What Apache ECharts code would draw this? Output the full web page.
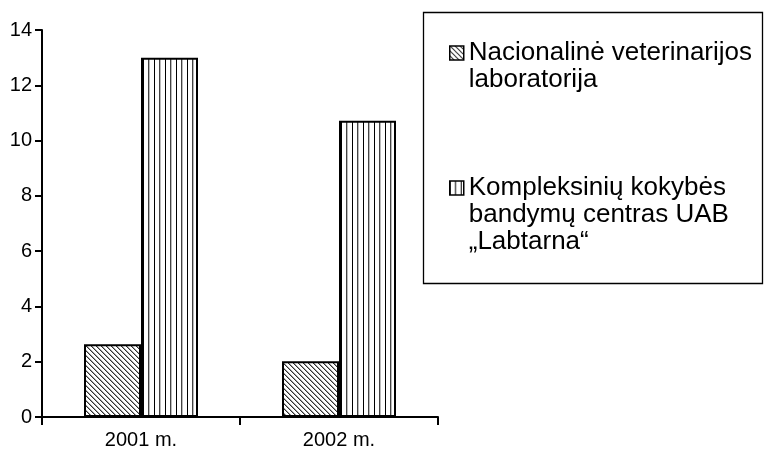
<!DOCTYPE html>
<html>
<head>
<meta charset="utf-8">
<script src="https://cdn.jsdelivr.net/npm/echarts@6/dist/echarts.min.js"></script>
<style>html,body{margin:0;padding:0;background:#fff}#chart{width:764px;height:450px}</style>
</head>
<body>
<div id="chart"></div>
<script>
// ---- data ----
var categories = ['2001 m.', '2002 m.'];
var seriesNames = ['Nacionalinė veterinarijos\nlaboratorija', 'Kompleksinių kokybės\nbandymų centras UAB\n„Labtarna“'];
var nacionalineValues = [2.63, 2.02];
var labtarnaValues = [13.0, 10.72];
var yTicks = [0, 2, 4, 6, 8, 10, 12, 14];

// ---- hatch patterns ----
function makeDiag() {
  var c = document.createElement('canvas');
  c.width = 5; c.height = 5;
  var ctx = c.getContext('2d');
  ctx.fillStyle = '#fff'; ctx.fillRect(0, 0, 5, 5);
  var img = ctx.getImageData(0, 0, 5, 5);
  for (var i = 0; i < 5; i++) {
    var p = (i * 5 + i) * 4;
    img.data[p] = img.data[p + 1] = img.data[p + 2] = 50;
    var j = (i + 1) % 5;
    var q = (i * 5 + j) * 4;
    img.data[q] = img.data[q + 1] = img.data[q + 2] = 160;
  }
  ctx.putImageData(img, 0, 0);
  return c;
}
function makeVert() {
  var c = document.createElement('canvas');
  c.width = 11; c.height = 4;
  var ctx = c.getContext('2d');
  ctx.fillStyle = '#fff'; ctx.fillRect(0, 0, 11, 4);
  ctx.fillStyle = '#000'; ctx.fillRect(0, 0, 1, 4);
  ctx.fillStyle = '#444'; ctx.fillRect(5, 0, 1, 4);
  ctx.fillStyle = '#bbb'; ctx.fillRect(6, 0, 1, 4);
  return c;
}
var diagPattern = { image: makeDiag(), repeat: 'repeat' };
var vertPattern = { image: makeVert(), repeat: 'repeat' };

var font = '"Liberation Sans", Arial, sans-serif';
var LH = 27;
var chart = echarts.init(document.getElementById('chart'), null, { renderer: 'canvas' });
var legendText = { fontFamily: font, fontSize: 26, color: '#000', lineHeight: LH };
// pad with empty lines above so the icon sits beside the first text line
function topAligned(name) {
  var n = name.split('\n').length;
  return new Array(n).join('\n') + name;
}

chart.setOption({
  backgroundColor: '#fff',
  animation: false,
  grid: { left: 42, right: 326, top: 30, bottom: 32, containLabel: false },
  graphic: [{
    type: 'rect', shape: { x: 423.5, y: 12.5, width: 339, height: 271 },
    style: { fill: 'none', stroke: '#000', lineWidth: 1.3 }, z: 0
  }],
  legend: [
    { data: [seriesNames[0]], left: 449, top: 53 - (3 * LH) / 2, orient: 'vertical', padding: 0,
      icon: 'rect', itemWidth: 14, itemHeight: 14, textStyle: legendText, formatter: topAligned,
      itemStyle: { borderColor: '#000', borderWidth: 1.5 } },
    { data: [seriesNames[1]], left: 449, top: 188 - (5 * LH) / 2, orient: 'vertical', padding: 0,
      icon: 'rect', itemWidth: 14, itemHeight: 14, textStyle: legendText, formatter: topAligned,
      itemStyle: { borderColor: '#000', borderWidth: 1.5 } }
  ],
  xAxis: {
    type: 'category', data: categories,
    axisLine: { lineStyle: { color: '#000', width: 2 } },
    axisTick: { show: true, length: 8, alignWithLabel: false, lineStyle: { color: '#000', width: 2 } },
    axisLabel: { color: '#000', fontFamily: font, fontSize: 20, margin: 13 }
  },
  yAxis: {
    type: 'value', min: 0, max: 14, interval: 2,
    splitLine: { show: false },
    axisLine: { show: true, lineStyle: { color: '#000', width: 2 } },
    axisTick: { show: true, length: 7, lineStyle: { color: '#000', width: 2 } },
    axisLabel: { color: '#000', fontFamily: font, fontSize: 20, margin: 10,
      formatter: function (v) { return yTicks.indexOf(v) >= 0 ? String(v) : ''; } }
  },
  series: [
    { name: seriesNames[0], type: 'bar', data: nacionalineValues, barWidth: 57, barGap: '0%',
      itemStyle: { color: diagPattern, borderColor: '#000', borderWidth: 2 } },
    { name: seriesNames[1], type: 'bar', data: labtarnaValues, barWidth: 57, barGap: '0%',
      itemStyle: { color: vertPattern, borderColor: '#000', borderWidth: 2 } }
  ]
});
</script>
</body>
</html>
